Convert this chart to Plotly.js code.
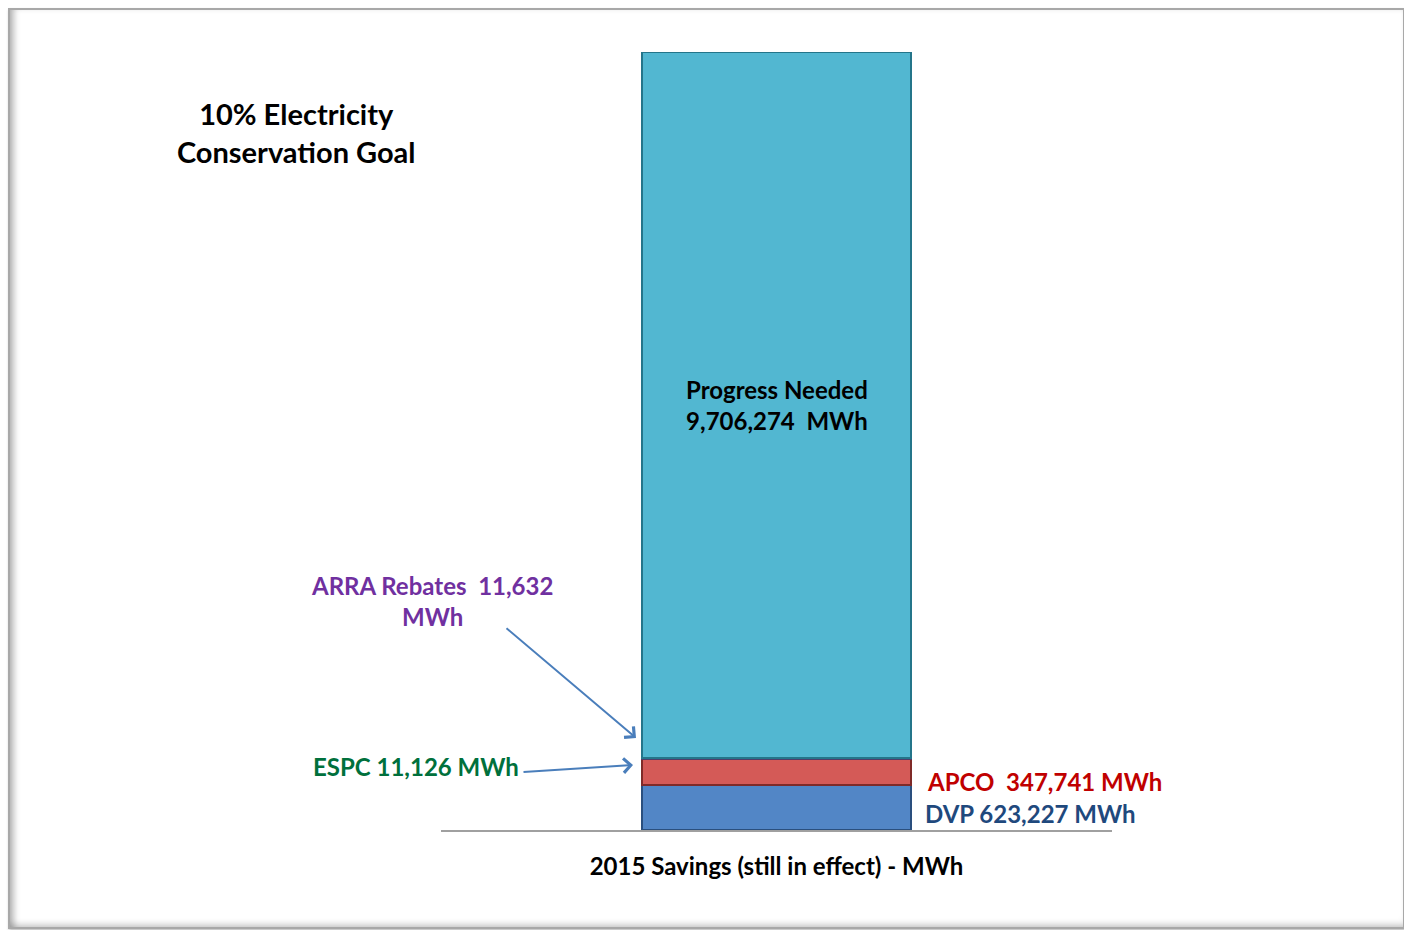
<!DOCTYPE html>
<html>
<head>
<meta charset="utf-8">
<script src="https://cdn.plot.ly/plotly-3.0.1.min.js"></script>
<style>
  html, body { margin: 0; padding: 0; background: #ffffff; }
  #chart { position: absolute; left: 0; top: 0; width: 1404px; height: 930px; }
  #frame { position: absolute; left: 8px; top: 8px; width: 1393px; height: 917px;
           border: 2px solid #a8a8a8; pointer-events: none;
           box-shadow: inset 7px 0 6px -3px rgba(0,0,0,0.28), inset 0 -6px 6px -3px rgba(0,0,0,0.18), 1px 2px 3px rgba(0,0,0,0.25); }
</style>
</head>
<body>
<div id="chart"></div>
<div id="frame"></div>
<script>
// ---- data ----
const categories = ["2015 Savings"];
const seriesNames = ["DVP", "APCO", "ESPC", "ARRA Rebates", "Progress Needed"];
const dvpValues = [623227];
const apcoValues = [347741];
const espcValues = [11126];
const arraValues = [11632];
const neededValues = [9706274];
const xAxisTitle = "2015 Savings (still in effect) - MWh";
const chartTitle = "10% Electricity<br>Conservation Goal";

const fmt = v => v.toLocaleString("en-US");

const seriesValues = [dvpValues, apcoValues, espcValues, arraValues, neededValues];
const fills = ["#5286c6", "#d45a57", "#9bbb59", "#8064a2", "#52b7d1"];
const edges = ["#2a4f7e", "#7f2a28", "#5e7a30", "#4f3d6b", "#24758a"];

const traces = seriesNames.map((name, i) => ({
  type: "bar",
  name: name,
  x: categories,
  y: seriesValues[i],
  marker: { color: fills[i], line: { color: edges[i], width: 2 } },
  hoverinfo: "skip"
}));

const total = seriesValues.reduce((s, arr) => s + arr[0], 0);
const belowNeeded = dvpValues[0] + apcoValues[0] + espcValues[0] + arraValues[0];

const font = "Lato, 'Open Sans', sans-serif";

const layout = {
  width: 1404, height: 930,
  margin: { l: 441, r: 292, t: 52, b: 100 },
  paper_bgcolor: "rgba(0,0,0,0)",
  plot_bgcolor: "rgba(0,0,0,0)",
  barmode: "stack",
  bargap: 0.6,
  showlegend: false,
  title: {
    text: "<b>" + chartTitle + "</b>",
    font: { family: font, size: 29, color: "#000000" },
    xref: "container", yref: "container",
    x: 0.211, xanchor: "center",
    y: 0.8655, yanchor: "middle"
  },
  xaxis: {
    type: "category",
    range: [-0.5, 0.5],
    showticklabels: false,
    ticks: "",
    showline: true, linecolor: "#a0a0a0", linewidth: 2,
    showgrid: false, zeroline: false,
    title: { text: "<b>" + xAxisTitle + "</b>", font: { family: font, size: 24, color: "#000000" }, standoff: 27 }
  },
  yaxis: {
    range: [0, total],
    showticklabels: false, showgrid: false, zeroline: false, showline: false, ticks: ""
  },
  annotations: [
    {
      xref: "x", yref: "y", x: categories[0], y: belowNeeded + neededValues[0] * 0.5,
      text: "<b>" + seriesNames[4] + "<br>" + fmt(neededValues[0]) + "  MWh</b>",
      showarrow: false, font: { family: font, size: 24, color: "#000000" }, align: "center"
    },
    {
      xref: "paper", yref: "paper", x: (432 - 441) / 671, y: (830 - 601) / 778,
      xanchor: "center", yanchor: "middle",
      text: "<b>" + seriesNames[3] + "  " + fmt(arraValues[0]) + "<br>MWh</b>",
      showarrow: false, font: { family: font, size: 24, color: "#7030a0" }, align: "center"
    },
    {
      xref: "paper", yref: "paper", x: (636 - 441) / 671, y: (830 - 738) / 778,
      text: "", showarrow: true, arrowhead: 4, arrowsize: 1.4, arrowwidth: 2, arrowcolor: "#4a7ebb",
      ax: -131, ay: -111, standoff: 0
    },
    {
      xref: "paper", yref: "paper", x: (521 - 441) / 671, y: (830 - 766) / 778,
      xanchor: "right", yanchor: "middle",
      text: "<b>" + seriesNames[2] + " " + fmt(espcValues[0]) + " MWh</b>",
      showarrow: false, font: { family: font, size: 24, color: "#00703c" }
    },
    {
      xref: "paper", yref: "paper", x: (633 - 441) / 671, y: (830 - 765) / 778,
      text: "", showarrow: true, arrowhead: 4, arrowsize: 1.4, arrowwidth: 2, arrowcolor: "#4a7ebb",
      ax: -111, ay: 7, standoff: 0
    },
    {
      xref: "paper", yref: "paper", x: (925 - 441) / 671, y: (830 - 781) / 778,
      xanchor: "left", yanchor: "middle",
      text: "<b>" + seriesNames[1] + "  " + fmt(apcoValues[0]) + " MWh</b>",
      showarrow: false, font: { family: font, size: 24, color: "#c00000" }
    },
    {
      xref: "paper", yref: "paper", x: (923 - 441) / 671, y: (830 - 813) / 778,
      xanchor: "left", yanchor: "middle",
      text: "<b>" + seriesNames[0] + " " + fmt(dvpValues[0]) + " MWh</b>",
      showarrow: false, font: { family: font, size: 24, color: "#1f497d" }
    }
  ]
};

Plotly.newPlot("chart", traces, layout, { displayModeBar: false, staticPlot: true });
</script>
</body>
</html>
